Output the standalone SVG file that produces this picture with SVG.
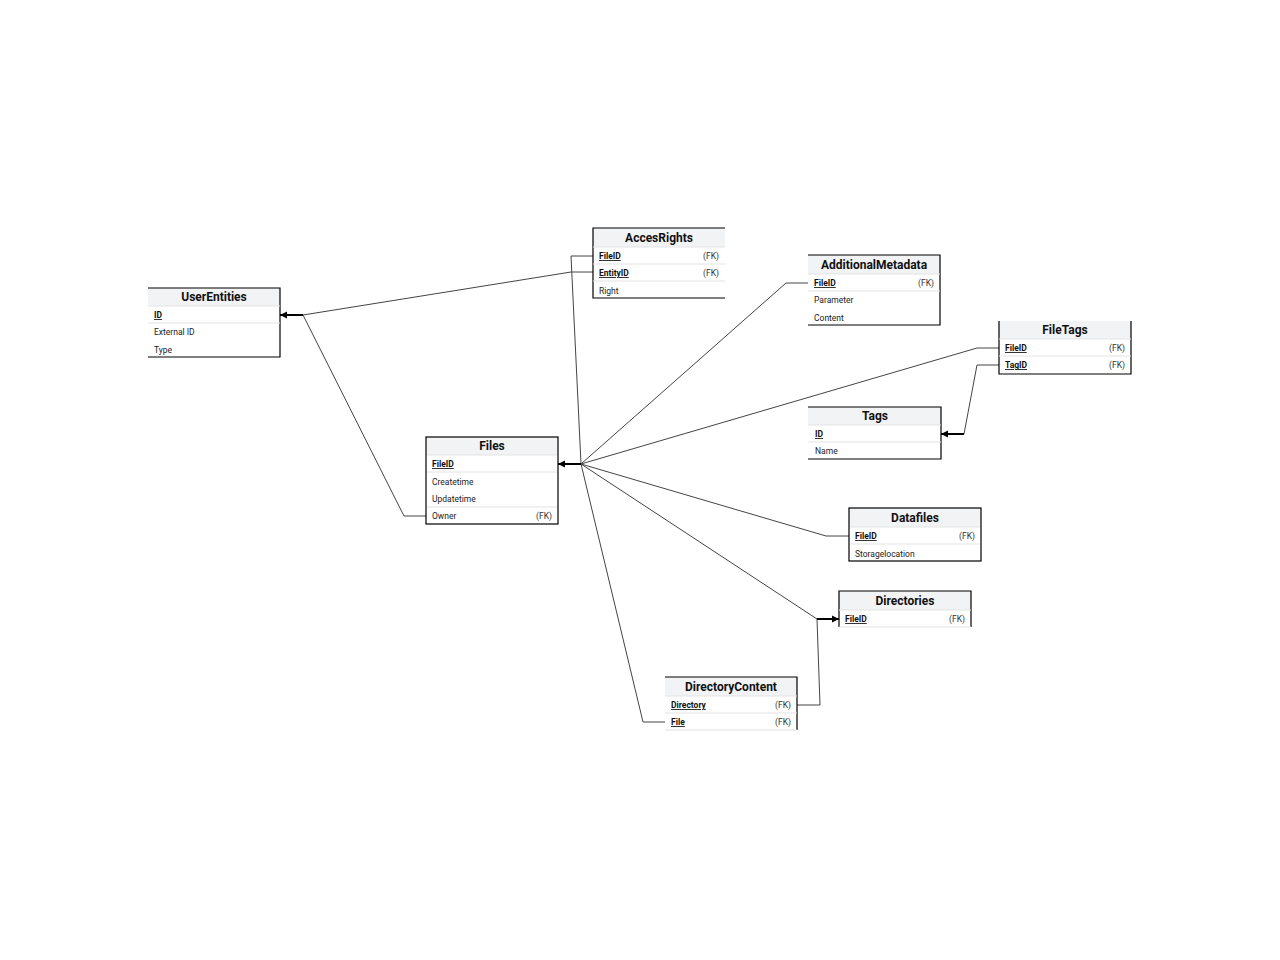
<svg xmlns="http://www.w3.org/2000/svg" width="1280" height="960" viewBox="0 0 1280 960">
<style>
.hd{fill:#f2f3f5}
.b{stroke:#000;stroke-width:1.2;fill:none}
.sep{stroke:#e3e3e3;stroke-width:1}
.t{font-family:Roboto,"Liberation Sans",sans-serif;font-size:12px;font-weight:bold;text-anchor:middle;fill:#111}
.f{font-family:Roboto,"Liberation Sans",sans-serif;font-size:8.5px;fill:#222}
.k{font-family:Roboto,"Liberation Sans",sans-serif;font-size:8.5px;font-weight:bold;fill:#111;text-decoration:underline}
.fk{font-family:Roboto,"Liberation Sans",sans-serif;font-size:8.5px;fill:#333;text-anchor:end}
.c{stroke:#444;stroke-width:1;fill:none}
.th{stroke:#000;stroke-width:2;fill:none}
</style>
<defs>
<marker id="ar" viewBox="0 0 10 10" refX="10" refY="5" markerWidth="7" markerHeight="12" markerUnits="userSpaceOnUse" orient="auto"><path d="M0,0L10,5L0,10z" fill="#000"/></marker>
</defs>
<rect width="1280" height="960" fill="#fff"/>
<g id="connectors">
<path class="c" d="M303,315L571,272L593,272"/>
<path class="c" d="M303,315L404,516L426,516"/>
<path class="th" d="M303,315L280,315" marker-end="url(#ar)"/>
<path class="c" d="M581,464L571,256L593,256"/>
<path class="c" d="M581,464L786,283L808,283"/>
<path class="c" d="M581,464L977,348L999,348"/>
<path class="c" d="M581,464L826,536L849,536"/>
<path class="c" d="M581,464L817,619"/>
<path class="c" d="M581,464L643,722L665,722"/>
<path class="th" d="M581,464L558,464" marker-end="url(#ar)"/>
<path class="c" d="M999,365L977,365L964,434"/>
<path class="th" d="M964,434L941,434" marker-end="url(#ar)"/>
<path class="c" d="M797,705L820,705L817,619"/>
<path class="th" d="M817,619L839,619" marker-end="url(#ar)"/>
</g>
<g id="UserEntities">
<rect class="hd" x="148" y="288" width="132" height="18"/>
<path class="b" d="M148,288H280V357H148"/>
<line class="sep" x1="148" y1="306" x2="280" y2="306"/><line class="sep" x1="148" y1="323" x2="280" y2="323"/>
<text class="t" x="214" y="301">UserEntities</text>
<text class="k" x="154" y="318">ID</text>
<text class="f" x="154" y="335">External ID</text>
<text class="f" x="154" y="353">Type</text>
</g>
<g id="AccesRights">
<rect class="hd" x="593" y="228" width="132" height="19"/>
<path class="b" d="M725,228H593V298H725"/>
<line class="sep" x1="593" y1="247" x2="725" y2="247"/><line class="sep" x1="593" y1="264" x2="725" y2="264"/><line class="sep" x1="593" y1="281" x2="725" y2="281"/>
<text class="t" x="659" y="242">AccesRights</text>
<text class="k" x="599" y="259">FileID</text><text class="fk" x="719" y="259">(FK)</text>
<text class="k" x="599" y="276">EntityID</text><text class="fk" x="719" y="276">(FK)</text>
<text class="f" x="599" y="294">Right</text>
</g>
<g id="AdditionalMetadata">
<rect class="hd" x="808" y="255" width="132" height="19"/>
<path class="b" d="M808,255H940V325H808"/>
<line class="sep" x1="808" y1="274" x2="940" y2="274"/><line class="sep" x1="808" y1="291" x2="940" y2="291"/>
<text class="t" x="874" y="269">AdditionalMetadata</text>
<text class="k" x="814" y="286">FileID</text><text class="fk" x="934" y="286">(FK)</text>
<text class="f" x="814" y="303">Parameter</text>
<text class="f" x="814" y="321">Content</text>
</g>
<g id="FileTags">
<rect class="hd" x="999" y="321" width="132" height="18"/>
<path class="b" d="M999,321V374H1131V321"/>
<line class="sep" x1="999" y1="339" x2="1131" y2="339"/><line class="sep" x1="999" y1="356" x2="1131" y2="356"/>
<text class="t" x="1065" y="334">FileTags</text>
<text class="k" x="1005" y="351">FileID</text><text class="fk" x="1125" y="351">(FK)</text>
<text class="k" x="1005" y="368">TagID</text><text class="fk" x="1125" y="368">(FK)</text>
</g>
<g id="Tags">
<rect class="hd" x="808" y="407" width="133" height="18"/>
<path class="b" d="M808,407H941V459H808"/>
<line class="sep" x1="808" y1="425" x2="941" y2="425"/><line class="sep" x1="808" y1="442" x2="941" y2="442"/>
<text class="t" x="875" y="420">Tags</text>
<text class="k" x="815" y="437">ID</text>
<text class="f" x="815" y="454">Name</text>
</g>
<g id="Files">
<rect class="hd" x="426" y="437" width="132" height="18"/>
<rect class="b" x="426" y="437" width="132" height="87"/>
<line class="sep" x1="427" y1="455" x2="557" y2="455"/><line class="sep" x1="427" y1="472" x2="557" y2="472"/><line class="sep" x1="427" y1="507" x2="557" y2="507"/>
<text class="t" x="492" y="450">Files</text>
<text class="k" x="432" y="467">FileID</text>
<text class="f" x="432" y="485">Createtime</text>
<text class="f" x="432" y="502">Updatetime</text>
<text class="f" x="432" y="519">Owner</text><text class="fk" x="552" y="519">(FK)</text>
</g>
<g id="Datafiles">
<rect class="hd" x="849" y="508" width="132" height="19"/>
<rect class="b" x="849" y="508" width="132" height="53"/>
<line class="sep" x1="850" y1="527" x2="980" y2="527"/><line class="sep" x1="850" y1="544" x2="980" y2="544"/>
<text class="t" x="915" y="522">Datafiles</text>
<text class="k" x="855" y="539">FileID</text><text class="fk" x="975" y="539">(FK)</text>
<text class="f" x="855" y="557">Storagelocation</text>
</g>
<g id="Directories">
<rect class="hd" x="839" y="591" width="132" height="19"/>
<path class="b" d="M839,627V591H971V627"/>
<line class="sep" x1="839" y1="610" x2="971" y2="610"/><line class="sep" x1="839" y1="627" x2="971" y2="627"/>
<text class="t" x="905" y="605">Directories</text>
<text class="k" x="845" y="622">FileID</text><text class="fk" x="965" y="622">(FK)</text>
</g>
<g id="DirectoryContent">
<rect class="hd" x="665" y="677" width="132" height="19"/>
<path class="b" d="M665,677H797V730"/>
<line class="sep" x1="665" y1="696" x2="797" y2="696"/><line class="sep" x1="665" y1="713" x2="797" y2="713"/><line class="sep" x1="665" y1="730" x2="797" y2="730"/>
<text class="t" x="731" y="691">DirectoryContent</text>
<text class="k" x="671" y="708">Directory</text><text class="fk" x="791" y="708">(FK)</text>
<text class="k" x="671" y="725">File</text><text class="fk" x="791" y="725">(FK)</text>
</g>
</svg>
